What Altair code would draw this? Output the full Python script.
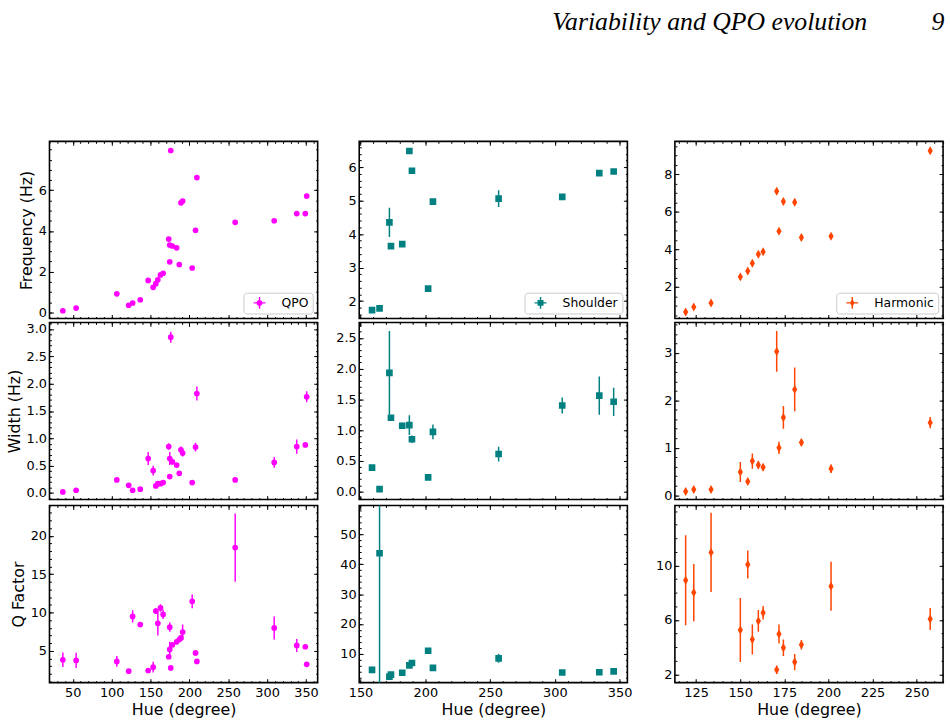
import altair as alt
import numpy as np
import pandas as pd

# ---------------- data ----------------
# QPO (magenta circles)
qpo_hue = [37.2, 54.3, 106.6, 121.9, 127.0, 136.8, 147.0, 153.4, 156.8, 159.4, 162.8, 166.2,
           173.4, 174.7, 174.7, 176.0, 178.1, 183.6, 187.0, 189.1, 191.3, 203.6, 207.9, 209.6,
           258.9, 309.1, 338.1, 349.1, 350.9]
qpo_freq = [0.08, 0.21, 0.91, 0.35, 0.46, 0.62, 1.57, 1.23, 1.41, 1.60, 1.84, 1.92,
            3.60, 3.31, 2.48, 7.95, 3.26, 3.17, 2.35, 5.38, 5.47, 2.18, 4.03, 6.62,
            4.42, 4.50, 4.85, 4.85, 5.71]
qpo_freq_err = [0.01, 0.01, 0.02, 0.01, 0.01, 0.01, 0.03, 0.03, 0.02, 0.02, 0.02, 0.02,
                0.04, 0.04, 0.03, 0.05, 0.04, 0.04, 0.03, 0.05, 0.05, 0.03, 0.04, 0.05,
                0.04, 0.05, 0.05, 0.04, 0.05]
qpo_width = [0.02, 0.05, 0.24, 0.14, 0.05, 0.07, 0.63, 0.41, 0.13, 0.17, 0.17, 0.19,
             0.85, 0.63, 0.30, 2.85, 0.57, 0.51, 0.36, 0.79, 0.73, 0.19, 0.84, 1.82,
             0.24, 0.56, 0.85, 0.88, 1.76]
qpo_width_err = [0.02, 0.02, 0.03, 0.03, 0.02, 0.02, 0.12, 0.09, 0.02, 0.03, 0.03, 0.03,
                 0.06, 0.12, 0.03, 0.10, 0.05, 0.03, 0.03, 0.06, 0.06, 0.02, 0.08, 0.13,
                 0.03, 0.10, 0.13, 0.03, 0.10]
qpo_q = [3.85, 3.77, 3.64, 2.37, 9.50, 8.44, 2.45, 2.88, 10.2, 8.60, 10.6, 9.76,
         4.24, 5.20, 8.10, 2.79, 5.80, 6.19, 6.49, 6.70, 7.46, 11.46, 4.74, 3.64,
         18.47, 8.00, 5.72, 5.55, 3.26]
qpo_q_err = [0.95, 1.00, 0.70, 0.20, 0.80, 0.30, 0.30, 0.70, 0.40, 1.60, 0.50, 0.60,
             0.30, 1.00, 0.60, 0.20, 0.30, 0.30, 0.30, 0.30, 1.00, 0.90, 0.30, 0.20,
             4.45, 1.50, 0.85, 0.20, 0.20]

# Shoulder (teal squares)
sh_hue = [158.9, 164.7, 172.3, 173.5, 182.2, 187.7, 189.7, 202.2, 205.9, 256.6, 305.7, 334.3, 345.4]
sh_freq = [1.73, 1.78, 4.35, 3.64, 3.70, 6.48, 5.89, 2.37, 4.97, 5.06, 5.11, 5.82, 5.87]
sh_freq_err = [0.03, 0.03, 0.44, 0.05, 0.04, 0.04, 0.04, 0.04, 0.04, 0.25, 0.04, 0.08, 0.04]
sh_width = [0.39, 0.04, 1.93, 1.20, 1.07, 1.08, 0.85, 0.23, 0.97, 0.61, 1.40, 1.56, 1.46]
sh_width_err = [0.02, 0.04, 0.68, 0.04, 0.05, 0.16, 0.06, 0.02, 0.12, 0.12, 0.13, 0.31, 0.23]
sh_q = [4.6, 43.7, 2.3, 3.0, 3.6, 6.1, 6.9, 11.0, 5.25, 8.45, 3.7, 3.8, 4.1]
sh_q_err = [0.3, 50.0, 0.5, 0.3, 0.3, 0.5, 0.5, 0.4, 0.4, 1.5, 0.3, 0.3, 0.3]

# Harmonic (orange-red thin diamonds)
hm_hue = [119.1, 123.7, 133.5, 150.1, 154.3, 156.9, 160.3, 163.0, 170.7, 172.0, 174.5, 180.9,
          184.7, 201.5, 257.7]
hm_freq = [0.67, 0.94, 1.15, 2.54, 2.85, 3.26, 3.74, 3.87, 7.09, 4.97, 6.54, 6.50, 4.63, 4.70, 9.24]
hm_freq_err = [0.14, 0.14, 0.15, 0.15, 0.15, 0.15, 0.16, 0.15, 0.16, 0.16, 0.15, 0.15, 0.15, 0.15, 0.16]
hm_width = [0.08, 0.12, 0.12, 0.49, 0.29, 0.72, 0.64, 0.59, 3.03, 1.00, 1.64, 2.23, 1.11, 0.56, 1.53]
hm_width_err = [0.06, 0.06, 0.06, 0.21, 0.07, 0.16, 0.08, 0.07, 0.43, 0.13, 0.24, 0.46, 0.07, 0.09, 0.12]
hm_q = [8.92, 8.01, 10.96, 5.26, 10.07, 4.56, 5.93, 6.53, 2.34, 4.97, 3.96, 2.91, 4.18, 8.47, 6.07]
hm_q_err = [3.30, 2.10, 2.90, 2.35, 1.03, 1.10, 0.80, 0.50, 0.30, 0.70, 0.60, 0.60, 0.35, 1.80, 0.80]

# tick labels
left_x_ticks = [50, 100, 150, 200, 250, 300, 350]
mid_x_ticks = [150, 200, 250, 300, 350]
right_x_ticks = [125, 150, 175, 200, 225, 250]

# ---------------- styling ----------------
W, H = 271, 179
FONT = "DejaVu Sans"
TICK_FS = 13
TITLE_FS = 16
MAGENTA, TEAL, ORANGE = "#ff00ff", "#008080", "#ff4500"
THIN_DIAMOND = "M0,-1L0.58,0L0,1L-0.58,0Z"
CROSS = "M-1,-0.12L1,-0.12L1,0.12L-1,0.12Z M-0.12,-1L0.12,-1L0.12,1L-0.12,1Z"
LEG_QPO = CROSS + " M0.5,0A0.5,0.5,0,1,1,-0.5,0A0.5,0.5,0,1,1,0.5,0Z"
LEG_SH = CROSS + " M-0.5,-0.5L0.5,-0.5L0.5,0.5L-0.5,0.5Z"
LEG_HM = CROSS + " M0,-0.68L0.38,0L0,0.68L-0.38,0Z"


def make_df(hue, val, err, name):
    return pd.DataFrame({
        "hue": hue,
        "v": val,
        "lo": [a - b for a, b in zip(val, err)],
        "hi": [a + b for a, b in zip(val, err)],
        "series": name,
    })


def grid_vals(lo, hi, step):
    n0 = int(np.ceil(lo / step - 1e-9))
    n1 = int(np.floor(hi / step + 1e-9))
    return [round(k * step, 6) for k in range(n0, n1 + 1)]


def tick_axis(orient, offset, values, size):
    return alt.Axis(orient=orient, offset=offset, values=values, labels=False, ticks=True,
                    tickSize=size, tickWidth=1, tickColor="black", domain=False,
                    grid=False, title=None)


def panel(df, color, shape, size, xdom, xmaj, xstep, ydom, ymaj, ystep, yfmt, ytitle,
          bottom, legend_sym=None, yminext=0):
    xs = alt.Scale(domain=xdom, nice=False, zero=False)
    ys = alt.Scale(domain=ydom, nice=False, zero=False)
    xmin = grid_vals(xdom[0], xdom[1], xstep)
    ymin = grid_vals(ydom[0], ydom[1], ystep)

    xlab_kw = dict(orient="bottom", values=xmaj, format="d", ticks=False, tickSize=0,
                   domain=False, grid=False, labels=bottom, labelFont=FONT,
                   labelFontSize=TICK_FS, labelColor="black", labelPadding=4)
    if bottom:
        xlab_kw.update(title="Hue (degree)", titleFont=FONT, titleFontSize=TITLE_FS,
                       titleFontWeight="normal", titleColor="black", titlePadding=2)
    else:
        xlab_kw.update(title=None)
    ylab_kw = dict(orient="left", values=ymaj, format=yfmt, ticks=False, tickSize=0,
                   domain=False, grid=False, labelFont=FONT, labelFontSize=TICK_FS,
                   labelColor="black", labelPadding=3, minExtent=yminext)
    if ytitle:
        ylab_kw.update(title=ytitle, titleFont=FONT, titleFontSize=TITLE_FS,
                       titleFontWeight="normal", titleColor="black", titlePadding=4)
    else:
        ylab_kw.update(title=None)

    base = alt.Chart(df)
    err = base.mark_rule(color=color, strokeWidth=1.5, clip=True).encode(
        x=alt.X("hue:Q", scale=xs, axis=alt.Axis(**xlab_kw)),
        y=alt.Y("lo:Q", scale=ys, axis=alt.Axis(**ylab_kw)),
        y2="hi:Q",
    )
    enc = dict(
        x=alt.X("hue:Q", scale=xs, axis=tick_axis("top", -H, xmaj, 4)),
        y=alt.Y("v:Q", scale=ys, axis=tick_axis("right", -W, ymaj, 4)),
    )
    if legend_sym is not None:
        enc["color"] = alt.Color(
            "series:N",
            scale=alt.Scale(domain=[df["series"].iloc[0]], range=[color]),
            legend=alt.Legend(title=None, orient="bottom-right", offset=5,
                              symbolType=legend_sym, symbolSize=144,
                              symbolFillColor=color, symbolStrokeWidth=0,
                              symbolOpacity=1, symbolOffset=6, labelOffset=16,
                              labelFont=FONT, labelFontSize=12.5, labelColor="black",
                              padding=4, strokeColor="#cccccc", fillColor="white",
                              cornerRadius=3),
        )
    pts = base.mark_point(filled=True, shape=shape, size=size, opacity=1, color=color,
                          clip=True).encode(**enc)
    l2 = base.mark_point(opacity=0).encode(
        x=alt.X("hue:Q", scale=xs, axis=tick_axis("top", -H, xmin, 2)),
        y=alt.Y("v:Q", scale=ys, axis=tick_axis("right", -W, ymin, 2)),
    )
    l3 = base.mark_point(opacity=0).encode(
        x=alt.X("hue:Q", scale=xs, axis=tick_axis("bottom", -H, xmaj, 4)),
        y=alt.Y("v:Q", scale=ys, axis=tick_axis("left", -W, ymaj, 4)),
    )
    l4 = base.mark_point(opacity=0).encode(
        x=alt.X("hue:Q", scale=xs, axis=tick_axis("bottom", -H, xmin, 2)),
        y=alt.Y("v:Q", scale=ys, axis=tick_axis("left", -W, ymin, 2)),
    )
    return alt.layer(err, pts, l2, l3, l4).resolve_axis(
        x="independent", y="independent").properties(width=W, height=H)


LX = [20, 365]
MX = [149, 356]
RX = [113, 265]
MID_EXT = 25
RIGHT_EXT = 27

CIRC, SQ, DIA = 33, 45, 82

panels = [
    panel(make_df(qpo_hue, qpo_freq, qpo_freq_err, "QPO"), MAGENTA, "circle", CIRC,
          LX, left_x_ticks, 10, [-0.3, 8.4], [0, 2, 4, 6], 0.5, "d", "Frequency (Hz)",
          False, LEG_QPO),
    panel(make_df(sh_hue, sh_freq, sh_freq_err, "Shoulder"), TEAL, "square", SQ,
          MX, mid_x_ticks, 10, [1.48, 6.77], [2, 3, 4, 5, 6], 0.2, "d", None,
          False, LEG_SH, MID_EXT),
    panel(make_df(hm_hue, hm_freq, hm_freq_err, "Harmonic"), ORANGE, THIN_DIAMOND, DIA,
          RX, right_x_ticks, 5, [0.33, 9.74], [2, 4, 6, 8], 0.5, "d", None,
          False, LEG_HM, RIGHT_EXT),
    panel(make_df(qpo_hue, qpo_width, qpo_width_err, "QPO"), MAGENTA, "circle", CIRC,
          LX, left_x_ticks, 10, [-0.12, 3.12], [0, 0.5, 1, 1.5, 2, 2.5, 3], 0.1, ".1f",
          "Width (Hz)", False),
    panel(make_df(sh_hue, sh_width, sh_width_err, "Shoulder"), TEAL, "square", SQ,
          MX, mid_x_ticks, 10, [-0.13, 2.75], [0, 0.5, 1, 1.5, 2, 2.5], 0.1, ".1f", None,
          False, None, MID_EXT),
    panel(make_df(hm_hue, hm_width, hm_width_err, "Harmonic"), ORANGE, THIN_DIAMOND, DIA,
          RX, right_x_ticks, 5, [-0.09, 3.64], [0, 1, 2, 3], 0.2, "d", None,
          False, None, RIGHT_EXT),
    panel(make_df(qpo_hue, qpo_q, qpo_q_err, "QPO"), MAGENTA, "circle", CIRC,
          LX, left_x_ticks, 10, [0.87, 23.95], [5, 10, 15, 20], 1, "d", "Q Factor", True),
    panel(make_df(sh_hue, sh_q, sh_q_err, "Shoulder"), TEAL, "square", SQ,
          MX, mid_x_ticks, 10, [0.3, 59.7], [10, 20, 30, 40, 50], 2, "d", None,
          True, None, MID_EXT),
    panel(make_df(hm_hue, hm_q, hm_q_err, "Harmonic"), ORANGE, THIN_DIAMOND, DIA,
          RX, right_x_ticks, 5, [1.4, 14.4], [2, 6, 10], 1, "d", None,
          True, None, RIGHT_EXT),
]

chart = alt.concat(
    *panels, columns=3, spacing={"row": 0, "column": 14}, align="each"
).resolve_scale(color="independent").properties(
    title=alt.TitleParams(
        text="Variability and QPO evolution" + "\u00a0" * 10 + "9",
        anchor="end", font="Liberation Serif", fontSize=26, fontStyle="italic",
        fontWeight="normal", color="black", offset=106),
    padding={"left": 5, "top": 5, "right": 5, "bottom": 5},
    background="white",
).configure_view(stroke="black", strokeWidth=1.6)

chart.save("out.html", embed_options={"renderer": "svg", "actions": False})
